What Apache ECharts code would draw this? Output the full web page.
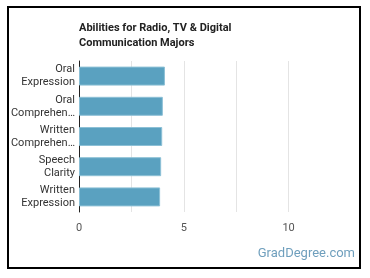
<!DOCTYPE html>
<html>
<head>
<meta charset="utf-8">
<script src="https://cdn.jsdelivr.net/npm/echarts@6/dist/echarts.min.js"></script>
<style>
  html, body { margin: 0; padding: 0; background: #fff; }
  #main { width: 370px; height: 278px; }
</style>
</head>
<body>
<div id="main"></div>
<script>
// abilities, top to bottom
let abilities = ['Oral Expression', 'Oral Comprehension', 'Written Comprehension', 'Speech Clarity', 'Written Expression'];
let scores = [4.1, 4.0, 3.97, 3.92, 3.87];
let xTicks = [0, 5, 10];

let chart = echarts.init(document.getElementById('main'), null, { renderer: 'canvas' });

let option = {
  backgroundColor: '#fff',
  animation: false,
  title: {
    text: 'Abilities for Radio, TV & Digital\nCommunication Majors',
    left: 79,
    top: 21,
    padding: 0,
    textStyle: {
      fontFamily: 'Roboto',
      fontSize: 11,
      fontWeight: 'bold',
      color: '#222',
      lineHeight: 15
    }
  },
  grid: {
    left: 79,
    right: 29,
    top: 61,
    height: 151,
    containLabel: false
  },
  xAxis: {
    type: 'value',
    min: 0,
    max: 12.5,
    interval: 2.5,
    axisLine: { show: false },
    axisTick: { show: false },
    splitLine: {
      lineStyle: {
        color: ['#e4e4e4', '#e4e4e4', '#e4e4e4', '#e4e4e4', '#e4e4e4', 'rgba(0,0,0,0)'],
        width: 1
      }
    },
    axisLabel: {
      fontFamily: 'Roboto',
      fontSize: 11,
      color: '#555',
      margin: 11,
      formatter: function (v) {
        return xTicks.indexOf(v) >= 0 ? String(v) : '';
      }
    }
  },
  yAxis: {
    type: 'category',
    inverse: true,
    data: abilities,
    axisLine: { lineStyle: { color: '#222', width: 1 } },
    axisTick: { show: false },
    axisLabel: {
      fontFamily: 'Roboto',
      fontSize: 11,
      color: '#333',
      lineHeight: 13,
      margin: 4,
      width: 66,
      overflow: 'truncate',
      ellipsis: '…',
      formatter: function (v) {
        return v.split(' ').join('\n');
      }
    }
  },
  series: [{
    type: 'bar',
    data: scores,
    barWidth: 19,
    itemStyle: {
      color: '#5aa1c0',
      borderColor: '#8cc0d6',
      borderWidth: 1
    },
    silent: true
  }],
  graphic: [
    {
      type: 'rect',
      shape: { x: 8, y: 7, width: 352, height: 261 },
      style: { fill: 'none', stroke: '#000', lineWidth: 2 },
      silent: true
    },
    {
      type: 'text',
      right: 15,
      top: 247,
      style: {
        text: 'GradDegree.com',
        font: '13px Roboto',
        fill: '#6f9fbd'
      },
      silent: true
    }
  ]
};

chart.setOption(option);
</script>
</body>
</html>
